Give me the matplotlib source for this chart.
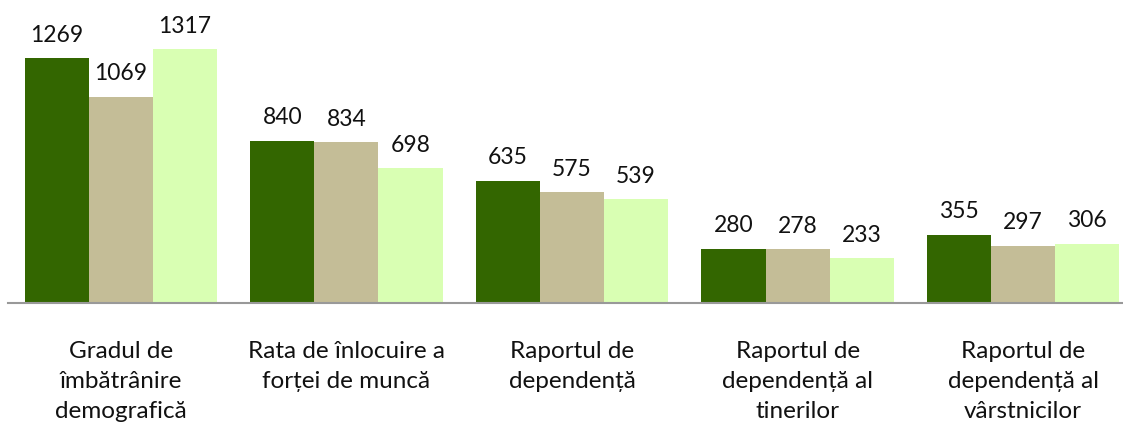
import numpy as np
import matplotlib.pyplot as plt

plt.rcParams['font.family'] = ['Lato', 'DejaVu Sans']

# Data
categories = ['Gradul de\nîmbătrânire\ndemografică',
              'Rata de înlocuire a\nforței de muncă',
              'Raportul de\ndependență',
              'Raportul de\ndependență al\ntinerilor',
              'Raportul de\ndependență al\nvârstnicilor']
series_a = [1269, 840, 635, 280, 355]
series_b = [1069, 834, 575, 278, 297]
series_c = [1317, 698, 539, 233, 306]
colors = ['#336600', '#C4BD97', '#D9FFB3']

fig = plt.figure(figsize=(11.23, 4.26), dpi=100)
ax = fig.add_axes([8 / 1123, 123 / 426, 1128 / 1123, 270 / 426])

x = np.arange(len(categories))
w = 0.284
for i, (vals, c) in enumerate(zip([series_a, series_b, series_c], colors)):
    bars = ax.bar(x + (i - 1) * w, vals, width=w, color=c, linewidth=0)
    for b, v in zip(bars, vals):
        ax.annotate(str(v), (b.get_x() + b.get_width() / 2, v),
                    xytext=(0, 9), textcoords='offset points',
                    ha='center', va='bottom', fontsize=16.5, color='#111111',
                    annotation_clip=False)

ax.set_xlim(-0.5, 4.5)
ax.set_ylim(0, 1400)
for s in ['top', 'right', 'left']:
    ax.spines[s].set_visible(False)
ax.spines['bottom'].set_color('#999999')
ax.spines['bottom'].set_linewidth(1.5)
ax.set_yticks([])
ax.set_xticks([])

for xi, lab in zip(x, categories):
    ax.annotate(lab, (xi, 0), xytext=(0, -27), textcoords='offset points',
                ha='center', va='top', fontsize=17.5, color='#111111',
                linespacing=1.55, annotation_clip=False)

fig.savefig('out.png', dpi=100)
